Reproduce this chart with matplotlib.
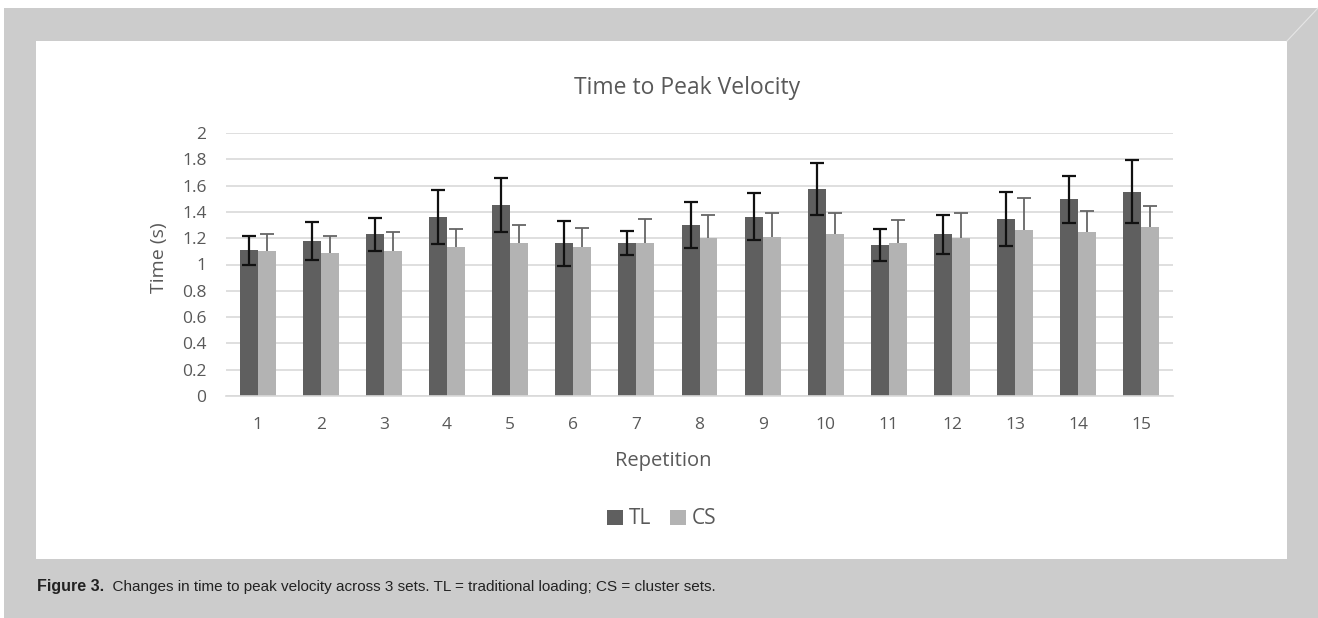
import matplotlib.pyplot as plt
import matplotlib.patches as mpatches
from matplotlib.lines import Line2D
import numpy as np

# data
reps = ['1', '2', '3', '4', '5', '6', '7', '8', '9', '10', '11', '12', '13', '14', '15']
tl_mean = [1.11, 1.18, 1.23, 1.36, 1.45, 1.16, 1.165, 1.30, 1.365, 1.575, 1.15, 1.23, 1.345, 1.495, 1.555]
tl_err = [0.11, 0.145, 0.125, 0.205, 0.205, 0.17, 0.09, 0.177, 0.18, 0.20, 0.12, 0.15, 0.205, 0.179, 0.237]
cs_mean = [1.10, 1.085, 1.10, 1.135, 1.16, 1.13, 1.16, 1.20, 1.21, 1.23, 1.16, 1.205, 1.26, 1.245, 1.285]
cs_err = [0.135, 0.133, 0.147, 0.137, 0.142, 0.15, 0.183, 0.178, 0.185, 0.165, 0.178, 0.183, 0.244, 0.16, 0.159]

W, H = 1318, 618
fig = plt.figure(figsize=(W / 100, H / 100), dpi=100)
fig.patch.set_facecolor('white')

# page background and white chart panel
fig.add_artist(mpatches.Rectangle((4 / W, 0), 1 - 4 / W, 1 - 8 / H, transform=fig.transFigure,
                                  facecolor='#cccccc', edgecolor='none', zorder=0))
fig.add_artist(mpatches.Rectangle((36 / W, (H - 559) / H), (1287 - 36) / W, (559 - 41) / H,
                                  transform=fig.transFigure, facecolor='white', edgecolor='none', zorder=1))
fig.add_artist(Line2D([1287 / W, 1318 / W], [(H - 41) / H, (H - 8) / H], transform=fig.transFigure,
                      color='#e6e6e6', lw=0.8, zorder=1))

txt = '#595959'
font = 'Open Sans'
capfont = ['Liberation Sans Narrow', 'Liberation Sans']

ax = fig.add_axes([226 / W, (H - 396) / H, (1173 - 226) / W, (396 - 133) / H])
ax.set_zorder(2)
ax.patch.set_alpha(0)

x = np.arange(len(reps))
bw = 0.285
ax.bar(x - bw / 2, tl_mean, bw, color='#5f5f5f', label='TL', zorder=2)
ax.bar(x + bw / 2, cs_mean, bw, color='#b3b3b3', label='CS', zorder=2)

ax.errorbar(x - bw / 2, tl_mean, yerr=tl_err, fmt='none', ecolor='#111111',
            elinewidth=1.6, capsize=5, capthick=1.6, zorder=3)
eb = ax.errorbar(x + bw / 2, cs_mean, yerr=[np.zeros(len(cs_err)), cs_err], fmt='none',
                 ecolor='#666666', elinewidth=1.3, capsize=5, capthick=1.3, zorder=3)
eb[1][0].set_visible(False)  # CS only has the upper half

ax.set_xlim(-0.5, len(reps) - 0.5)
ax.set_ylim(0, 2)
ax.set_yticks(np.arange(0, 2.01, 0.2))
ax.set_yticklabels(['0', '0.2', '0.4', '0.6', '0.8', '1', '1.2', '1.4', '1.6', '1.8', '2'])
ax.set_xticks(x)
ax.set_xticklabels(reps)
ax.yaxis.grid(True, color='#d9d9d9', lw=1.2, zorder=0)
ax.set_axisbelow(True)
for s in ['top', 'right', 'left']:
    ax.spines[s].set_visible(False)
ax.spines['bottom'].set_color('#d9d9d9')
ax.spines['bottom'].set_linewidth(1.2)
ax.tick_params(axis='both', length=0, labelsize=12.5, labelcolor=txt)
ax.tick_params(axis='y', pad=14)
ax.tick_params(axis='x', pad=15)
for lab in ax.get_xticklabels() + ax.get_yticklabels():
    lab.set_fontfamily(font)

ax.set_xlabel('Repetition', fontsize=14.5, color=txt, family=font, va='center')
ax.xaxis.set_label_coords((663 - 226) / 947, (396 - 461) / 263)
ax.set_ylabel('Time (s)', fontsize=14, color=txt, family=font, va='center')
ax.yaxis.set_label_coords((159 - 226) / 947, (396 - 258) / 263)

fig.text(687 / W, (H - 88) / H, 'Time to Peak Velocity', ha='center', va='center',
         fontsize=16.5, color=txt, family=font, zorder=3)

leg = fig.legend(loc='center', bbox_to_anchor=(662 / W, (H - 519) / H), ncol=2, frameon=False,
                 prop={'family': font, 'size': 15}, handlelength=0.75, handleheight=0.75,
                 handletextpad=0.3, columnspacing=0.9, labelcolor=txt)
leg.set_zorder(3)

# caption under the panel
t1 = fig.text(37 / W, (H - 591) / H, 'Figure 3.', fontsize=11.5, fontweight='bold',
              family=capfont, color='#222222', zorder=3)
ax.annotate('  Changes in time to peak velocity across 3 sets. TL = traditional loading; CS = cluster sets.',
            xy=(1, 0), xycoords=t1, va='bottom', ha='left', fontsize=11,
            family=capfont, color='#222222', annotation_clip=False)

fig.savefig('out.png', dpi=100)
